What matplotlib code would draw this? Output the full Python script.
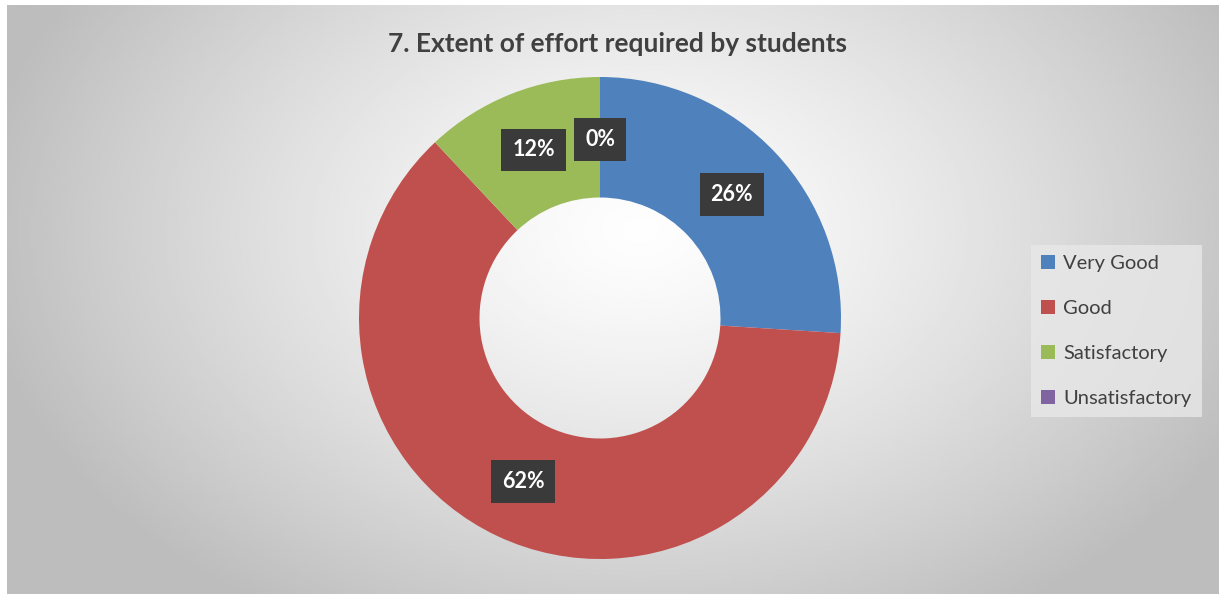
import numpy as np
import matplotlib.pyplot as plt

# data
categories = ['Very Good', 'Good', 'Satisfactory', 'Unsatisfactory']
shares = [26, 62, 12, 0]
colors = ['#4F81BD', '#C0504D', '#9BBB59', '#8064A2']
title = '7. Extent of effort required by students'

W, H = 1224, 597
fig = plt.figure(figsize=(W / 100, H / 100), dpi=100)
fig.patch.set_facecolor('white')

# chart area with radial gradient
x0, y0, x1, y1 = 7, 5, 1219, 594
bg = fig.add_axes([x0 / W, 1 - y1 / H, (x1 - x0) / W, (y1 - y0) / H])
gx, gy = np.meshgrid(np.linspace(x0, x1, 400), np.linspace(y0, y1, 200))
d = np.sqrt(((gx - 640) / 700) ** 2 + ((gy - 230) / 480) ** 2)
val = np.clip(0.995 - 0.27 * d ** 1.3, 0.74, 1)
bg.imshow(val, cmap='gray', vmin=0, vmax=1, aspect='auto', extent=[0, 1, 0, 1])
bg.set_axis_off()

# donut
cx, cy, R = 600, 318, 241
ax = fig.add_axes([(cx - R) / W, 1 - (cy + R) / H, 2 * R / W, 2 * R / H])
wedges, texts, autotexts = ax.pie(
    shares, colors=colors, startangle=90, counterclock=False,
    radius=1, wedgeprops=dict(width=0.5, linewidth=0),
    autopct='%d%%', pctdistance=0.75,
    textprops=dict(color='white', fontsize=15.5, fontweight='bold', family='Lato'))
ax.set_xlim(-1, 1)
ax.set_ylim(-1, 1)
ax.set_aspect('equal')
for t in autotexts:
    t.set_bbox(dict(boxstyle='square,pad=0.5', facecolor='#3a3a3a', edgecolor='none'))
    t.set_zorder(5)
# 0% label sits a bit lower, on the top edge
px, py = autotexts[3].get_position()
autotexts[3].set_position((px, py - 0.01))

fig.text(617 / W, 1 - 44 / H, title, ha='center', va='center',
         fontsize=19, fontweight='bold', color='#404040', family='Lato')

leg = fig.legend(wedges, categories, loc='center left',
                 bbox_to_anchor=(1031 / W, 1 - 331 / H),
                 frameon=True, fancybox=False,
                 prop=dict(family='Lato', size=14.5),
                 handlelength=0.7, handleheight=0.7, handletextpad=0.4,
                 labelspacing=1.38, borderpad=0.5, borderaxespad=0)
leg.get_frame().set_facecolor('#e8e8e8')
leg.get_frame().set_edgecolor('none')
for t in leg.get_texts():
    t.set_color('#404040')

fig.savefig('out.png', dpi=100)
